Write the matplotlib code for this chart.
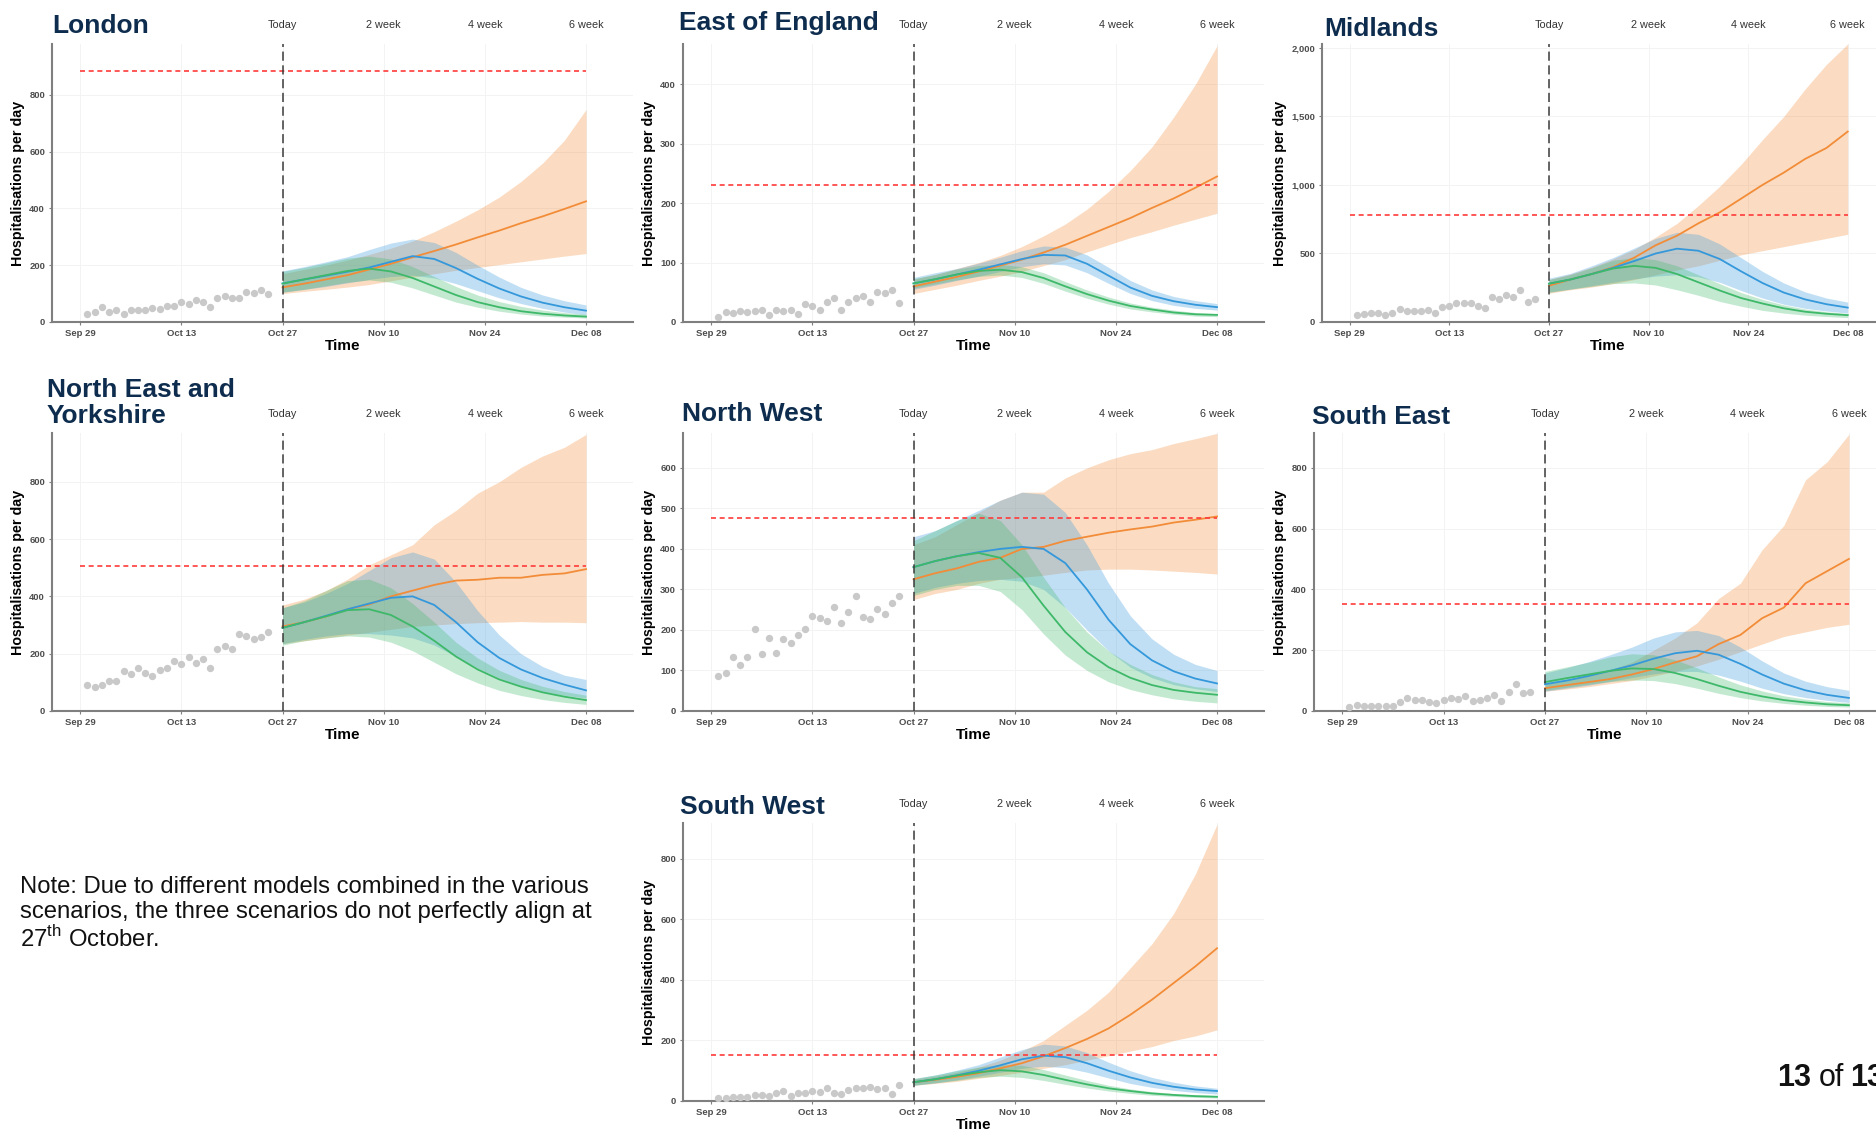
import matplotlib
matplotlib.use("Agg")
import matplotlib.pyplot as plt
from matplotlib.ticker import FuncFormatter

plt.rcParams['font.family'] = ['Liberation Sans', 'DejaVu Sans']
plt.rcParams['mathtext.fontset'] = 'custom'
plt.rcParams['mathtext.rm'] = 'Liberation Sans'

W, H = 1876, 1129

# day 0 = 29 September
tick_days = [0, 14, 28, 42, 56, 70]
tick_labels = ['Sep 29', 'Oct 13', 'Oct 27', 'Nov 10', 'Nov 24', 'Dec 08']
horizon_days = [28, 42, 56, 70]
horizon_labels = ['Today', '2 week', '4 week', '6 week']
obs_days = list(range(1, 27))
proj_days = [28, 31, 34, 37, 40, 43, 46, 49, 52, 55, 58, 61, 64, 67, 70]

# scenarios are stored as [lower, median, upper]
london_obs = [29, 35, 52, 35, 43, 29, 43, 41, 41, 49, 47, 55, 55, 70, 62, 78,
              70, 52, 84, 93, 84, 84, 106, 101, 111, 99]
london_cap = 885
london_orange = [
    [100, 108, 115, 123, 132, 145, 158, 170, 182, 192, 202, 212, 222, 232, 241],
    [122, 135, 150, 165, 185, 205, 228, 250, 273, 298, 322, 348, 372, 398, 425],
    [170, 185, 200, 218, 238, 260, 285, 318, 355, 395, 440, 495, 560, 640, 748],
]
london_blue = [
    [105, 115, 125, 138, 150, 160, 165, 155, 135, 110, 85, 65, 48, 35, 25],
    [136, 150, 163, 177, 192, 212, 232, 222, 190, 152, 118, 90, 68, 52, 40],
    [180, 195, 212, 230, 255, 278, 292, 280, 245, 200, 158, 122, 95, 75, 60],
]
london_green = [
    [105, 115, 128, 140, 148, 140, 120, 95, 70, 52, 38, 28, 21, 17, 14],
    [135, 150, 165, 180, 188, 178, 155, 125, 95, 70, 52, 38, 29, 23, 19],
    [178, 192, 208, 225, 232, 222, 195, 160, 125, 95, 72, 55, 42, 33, 27],
]

east_obs = [8, 17, 15, 19, 17, 19, 20, 12, 21, 18, 20, 13, 30, 27, 21, 34,
            40, 21, 34, 40, 44, 34, 51, 48, 54, 32]
east_cap = 231
east_orange = [
    [48, 55, 62, 70, 77, 85, 95, 105, 118, 130, 142, 152, 163, 173, 183],
    [60, 68, 76, 85, 95, 105, 117, 130, 145, 160, 175, 192, 208, 226, 245],
    [72, 80, 90, 100, 112, 127, 145, 165, 190, 220, 255, 295, 345, 400, 465],
]
east_blue = [
    [55, 62, 70, 77, 85, 93, 98, 96, 83, 65, 48, 36, 28, 23, 20],
    [65, 72, 80, 88, 97, 106, 113, 112, 98, 78, 58, 44, 35, 29, 25],
    [75, 83, 90, 99, 109, 120, 128, 126, 113, 92, 70, 54, 43, 36, 31],
]
east_green = [
    [57, 64, 71, 77, 79, 75, 65, 52, 40, 30, 22, 17, 13, 10, 9],
    [65, 72, 80, 86, 88, 84, 74, 60, 47, 36, 27, 21, 16, 13, 12],
    [73, 80, 89, 95, 97, 93, 83, 68, 54, 42, 32, 25, 20, 16, 14],
]

midlands_obs = [54, 58, 68, 68, 54, 68, 95, 78, 78, 78, 88, 66, 112, 117, 141,
                136, 141, 117, 102, 182, 168, 195, 182, 231, 144, 170]
midlands_cap = 780
midlands_orange = [
    [210, 235, 255, 280, 310, 345, 380, 410, 450, 490, 520, 550, 580, 610, 640],
    [265, 310, 350, 400, 470, 560, 630, 720, 800, 900, 1000, 1090, 1190, 1270, 1390],
    [310, 350, 400, 460, 530, 620, 720, 850, 990, 1150, 1330, 1500, 1700, 1880, 2030],
]
midlands_blue = [
    [220, 240, 265, 290, 315, 335, 345, 330, 290, 230, 175, 130, 100, 80, 65],
    [280, 310, 350, 395, 445, 500, 535, 520, 460, 370, 285, 215, 165, 130, 105],
    [320, 355, 410, 470, 540, 610, 655, 640, 570, 470, 370, 285, 220, 175, 145],
]
midlands_green = [
    [215, 240, 260, 280, 285, 270, 235, 195, 150, 115, 85, 65, 50, 40, 32],
    [280, 310, 350, 390, 410, 395, 350, 290, 230, 175, 135, 100, 75, 60, 50],
    [310, 345, 395, 450, 470, 455, 410, 345, 280, 215, 165, 125, 95, 75, 62],
]

ney_obs = [92, 83, 90, 104, 106, 139, 128, 151, 133, 122, 143, 150, 173, 164,
           187, 169, 180, 149, 215, 226, 218, 268, 260, 251, 257, 275]
ney_cap = 507
ney_orange = [
    [235, 245, 255, 265, 275, 285, 295, 300, 305, 308, 310, 312, 310, 310, 308],
    [295, 310, 330, 355, 372, 400, 420, 440, 455, 458, 465, 465, 475, 480, 495],
    [370, 390, 420, 460, 510, 545, 580, 650, 700, 760, 800, 850, 890, 920, 965],
]
ney_blue = [
    [235, 250, 262, 270, 270, 265, 255, 230, 190, 150, 115, 88, 68, 55, 45],
    [290, 310, 332, 355, 375, 395, 400, 370, 310, 240, 185, 145, 115, 92, 72],
    [360, 380, 410, 445, 490, 535, 555, 530, 450, 350, 265, 200, 155, 125, 110],
]
ney_green = [
    [230, 245, 255, 262, 258, 240, 210, 170, 130, 98, 72, 54, 40, 30, 23],
    [290, 310, 330, 352, 355, 335, 295, 245, 190, 145, 110, 85, 65, 50, 38],
    [360, 385, 420, 455, 460, 430, 375, 310, 240, 185, 142, 110, 86, 68, 55],
]

nw_obs = [86, 95, 133, 114, 134, 202, 141, 181, 143, 177, 168, 187, 203, 234,
          229, 221, 257, 216, 244, 285, 231, 228, 251, 240, 266, 284]
nw_cap = 477
nw_orange = [
    [275, 290, 300, 315, 325, 330, 335, 342, 348, 350, 350, 348, 345, 342, 338],
    [325, 340, 352, 368, 378, 400, 405, 420, 430, 440, 448, 455, 465, 472, 480],
    [410, 430, 460, 490, 520, 540, 540, 575, 600, 620, 635, 645, 660, 672, 685],
]
nw_blue = [
    [290, 305, 315, 322, 325, 320, 300, 255, 200, 148, 108, 82, 65, 55, 48],
    [355, 370, 382, 392, 400, 405, 400, 365, 300, 225, 165, 125, 98, 80, 68],
    [430, 445, 470, 495, 520, 540, 535, 490, 410, 315, 235, 178, 140, 115, 100],
]
nw_green = [
    [285, 300, 310, 310, 295, 250, 190, 138, 100, 72, 53, 40, 30, 24, 20],
    [355, 370, 382, 390, 378, 330, 260, 195, 145, 108, 82, 64, 52, 45, 40],
    [420, 445, 470, 488, 470, 410, 330, 255, 195, 148, 115, 90, 72, 60, 55],
]

se_obs = [13, 21, 15, 15, 18, 18, 18, 30, 42, 35, 35, 30, 25, 37, 43, 40,
          49, 33, 35, 42, 53, 33, 64, 89, 58, 63]
se_cap = 352
se_orange = [
    [65, 72, 80, 90, 100, 115, 130, 148, 170, 195, 220, 245, 260, 275, 285],
    [75, 85, 95, 105, 120, 138, 160, 180, 220, 250, 305, 340, 420, 460, 500],
    [90, 100, 115, 135, 160, 200, 240, 290, 370, 420, 530, 610, 760, 820, 910],
]
se_blue = [
    [65, 75, 85, 97, 110, 122, 130, 130, 118, 98, 75, 57, 44, 35, 28],
    [88, 100, 115, 132, 150, 172, 190, 198, 185, 155, 120, 90, 68, 53, 43],
    [125, 142, 162, 185, 210, 240, 260, 265, 248, 210, 165, 125, 98, 80, 68],
]
se_green = [
    [68, 78, 88, 97, 102, 100, 90, 75, 58, 44, 33, 25, 19, 15, 13],
    [95, 108, 120, 132, 140, 138, 125, 105, 83, 63, 48, 36, 28, 22, 19],
    [130, 145, 160, 178, 188, 185, 168, 142, 112, 86, 66, 50, 39, 31, 27],
]

sw_obs = [9, 9, 12, 12, 12, 20, 20, 17, 26, 34, 18, 26, 28, 32, 30, 44,
          28, 24, 38, 43, 42, 45, 39, 44, 24, 52]
sw_cap = 152
sw_orange = [
    [52, 58, 65, 75, 85, 95, 108, 120, 135, 150, 165, 180, 200, 215, 235],
    [62, 70, 80, 92, 108, 125, 148, 175, 205, 240, 285, 335, 390, 445, 505],
    [72, 82, 95, 112, 135, 165, 200, 250, 300, 360, 440, 520, 620, 750, 915],
]
sw_blue = [
    [52, 60, 70, 82, 95, 108, 115, 110, 95, 76, 58, 45, 35, 28, 23],
    [62, 72, 85, 100, 118, 138, 150, 145, 125, 100, 78, 60, 47, 38, 33],
    [74, 86, 102, 120, 145, 170, 188, 182, 160, 128, 100, 78, 62, 50, 42],
]
sw_green = [
    [52, 60, 68, 78, 82, 78, 68, 55, 43, 33, 25, 19, 15, 12, 10],
    [62, 72, 84, 95, 102, 98, 86, 70, 55, 42, 33, 25, 20, 16, 14],
    [74, 86, 100, 112, 120, 118, 104, 86, 68, 52, 40, 31, 25, 21, 18],
]

colours = ['#f28c38', '#3498db', '#3eb869']
navy = '#0e2d4e'


def fx(x):
    return x / W


def fy(y):
    return 1 - y / H


def make_axes(fig, left, top, right, bottom):
    return fig.add_axes([fx(left), fy(bottom), (right - left) / W, (bottom - top) / H])


def draw_panel(ax, obs, cap, scenarios, yticks, ytop):
    for (lo, mid, hi), col in zip(scenarios, colours):
        ax.fill_between(proj_days, lo, hi, color=col, alpha=0.3, lw=0, zorder=2)
    for (lo, mid, hi), col in zip(scenarios, colours):
        ax.plot(proj_days, mid, color=col, lw=1.3, zorder=4)
    ax.scatter(obs_days, obs, s=28, color='#c9c9c9', lw=0, zorder=3)
    ax.hlines(cap, 0, 70, colors='#ff3b3b', linestyles=(0, (3, 2.2)), lw=1.2, zorder=5)
    ax.axvline(28, color='#3a3a3a', ls=(0, (6, 3)), lw=1.1, zorder=5)

    ax.set_xlim(-3.9, 76.5)
    ax.set_ylim(0, ytop)
    ax.set_xticks(tick_days)
    ax.set_xticklabels(tick_labels)
    ax.set_yticks(yticks)
    ax.yaxis.set_major_formatter(FuncFormatter(lambda v, p: f'{v:,.0f}'))
    ax.tick_params(labelsize=6.8, colors='#7f7f7f', length=2.5, width=0.8, pad=2.5)
    for lab in ax.get_xticklabels() + ax.get_yticklabels():
        lab.set_color('#4d4d4d')
        lab.set_fontweight('bold')
    ax.grid(True, color='#f3f3f3', lw=0.7, zorder=0)
    ax.set_axisbelow(True)
    for s in ['top', 'right']:
        ax.spines[s].set_visible(False)
    for s in ['left', 'bottom']:
        ax.spines[s].set_color('#7f7f7f')
        ax.spines[s].set_linewidth(1.5)
    ax.set_xlabel('Time', fontsize=11, fontweight='bold', labelpad=1)
    ax.set_ylabel('Hospitalisations per day', fontsize=10.3, fontweight='bold', labelpad=3)
    tr = ax.get_xaxis_transform()
    for d, lab in zip(horizon_days, horizon_labels):
        ax.text(d, 1.068, lab, transform=tr, ha='center', va='center',
                fontsize=7.8, color='#333333', clip_on=False)


fig = plt.figure(figsize=(W / 100, H / 100), dpi=100)

regions = [
    ('London', london_obs, london_cap, [london_orange, london_blue, london_green],
     [0, 200, 400, 600, 800], 979),
    ('East of England', east_obs, east_cap, [east_orange, east_blue, east_green],
     [0, 100, 200, 300, 400], 468),
    ('Midlands', midlands_obs, midlands_cap, [midlands_orange, midlands_blue, midlands_green],
     [0, 500, 1000, 1500, 2000], 2029),
    ('North East and\nYorkshire', ney_obs, ney_cap, [ney_orange, ney_blue, ney_green],
     [0, 200, 400, 600, 800], 970),
    ('North West', nw_obs, nw_cap, [nw_orange, nw_blue, nw_green],
     [0, 100, 200, 300, 400, 500, 600], 686),
    ('South East', se_obs, se_cap, [se_orange, se_blue, se_green],
     [0, 200, 400, 600, 800], 914),
    ('South West', sw_obs, sw_cap, [sw_orange, sw_blue, sw_green],
     [0, 200, 400, 600, 800], 919),
]

# panel boxes (left, top, right, bottom) and title anchor, in pixels
boxes = [
    ((52, 44, 633, 322), (52, 26)),
    ((683, 44, 1264, 322), (679, 23)),
    ((1322, 44, 1894, 322), (1324, 29)),
    ((52, 433, 633, 711), (47, 403)),
    ((683, 433, 1264, 711), (682, 414)),
    ((1314, 433, 1896, 711), (1312, 417)),
    ((683, 823, 1264, 1101), (680, 807)),
]

for (name, obs, cap, scen, yt, ytop), (box, tpos) in zip(regions, boxes):
    ax = make_axes(fig, *box)
    draw_panel(ax, obs, cap, scen, yt, ytop)
    fig.text(fx(tpos[0]), fy(tpos[1]), name, ha='left', va='center',
             fontsize=19, fontweight='bold', color=navy, linespacing=1.1)

note = ('Note: Due to different models combined in the various\n'
        'scenarios, the three scenarios do not perfectly align at\n'
        r'27$^{\mathrm{th}}$ October.')
fig.text(fx(20), fy(914), note, ha='left', va='center', fontsize=17.2,
         color='#111111', linespacing=1.18)

fig.text(fx(1777), fy(1086), '13', ha='left', va='baseline', fontsize=22,
         fontweight='bold', color='#111111')
fig.text(fx(1819), fy(1086), 'of', ha='left', va='baseline', fontsize=22,
         color='#111111')
fig.text(fx(1850), fy(1086), '13', ha='left', va='baseline', fontsize=22,
         fontweight='bold', color='#111111')

fig.savefig('out.png', dpi=100)
